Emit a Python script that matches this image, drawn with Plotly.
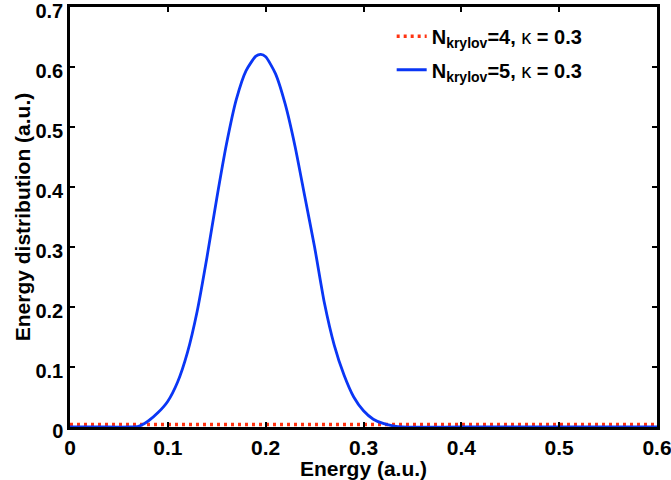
import plotly.graph_objects as go

# Series: N_krylov = 5 (blue, solid)
energy_n5 = [0.0, 0.03, 0.06, 0.07, 0.08, 0.09, 0.10, 0.11, 0.12, 0.13, 0.14,
             0.15, 0.16, 0.17, 0.18, 0.19, 0.195, 0.20, 0.21, 0.22, 0.23, 0.24,
             0.25, 0.26, 0.27, 0.28, 0.29, 0.30, 0.31, 0.32, 0.33, 0.34, 0.40,
             0.50, 0.60]
dist_n5 = [0.0, 0.0, 0.0, 0.001, 0.010, 0.024, 0.043, 0.075, 0.124, 0.193, 0.283,
           0.381, 0.472, 0.546, 0.594, 0.618, 0.621, 0.617, 0.589, 0.538, 0.468, 0.384,
           0.300, 0.207, 0.137, 0.087, 0.050, 0.027, 0.013, 0.006, 0.002, 0.0, 0.0,
           0.0, 0.0]

# Series: N_krylov = 4 (red, dotted)
energy_n4 = [0.0, 0.1, 0.2, 0.3, 0.4, 0.5, 0.6]
dist_n4 = [0.004, 0.004, 0.004, 0.004, 0.004, 0.004, 0.004]

x_ticks = [0, 0.1, 0.2, 0.3, 0.4, 0.5, 0.6]
x_tick_labels = ["0", "0.1", "0.2", "0.3", "0.4", "0.5", "0.6"]
y_ticks = [0, 0.1, 0.2, 0.3, 0.4, 0.5, 0.6, 0.7]
y_tick_labels = ["0", "0.1", "0.2", "0.3", "0.4", "0.5", "0.6", "0.7"]

FONT = "Liberation Sans, Arial, sans-serif"

fig = go.Figure()
fig.add_trace(go.Scatter(
    x=energy_n4, y=dist_n4, mode="lines", legend="legend",
    name="<b>N<sub>krylov</sub>=4, </b>κ<b> = 0.3</b>",
    line=dict(color="#FF3311", width=3.5, dash="3px,4px"),
))
fig.add_trace(go.Scatter(
    x=energy_n5, y=dist_n5, mode="lines", legend="legend2",
    name="<b>N<sub>krylov</sub>=5, </b>κ<b> = 0.3</b>",
    line=dict(color="#0A36F5", width=2.8, shape="spline", smoothing=0.6),
))

axis_common = dict(
    showgrid=False, zeroline=False, showline=True, linecolor="black",
    linewidth=2.5, mirror="ticks", ticks="inside", ticklen=5, tickwidth=2,
    tickcolor="black", ticklabeloverflow="allow", automargin=False,
)

fig.update_xaxes(
    range=[0, 0.6], tickvals=x_ticks, ticktext=x_tick_labels,
    tickfont=dict(family=FONT, size=21, color="black", weight="bold"),
    title=dict(text="<b>Energy (a.u.)</b>", standoff=0,
               font=dict(family=FONT, size=21, color="black")),
    **axis_common,
)
fig.update_yaxes(
    range=[0, 0.7], tickvals=y_ticks, ticktext=y_tick_labels,
    ticklabelshift=4,
    tickfont=dict(family=FONT, size=20, color="black", weight="bold"),
    title=dict(text="<b>Energy distribution (a.u.)</b>", standoff=0,
               font=dict(family=FONT, size=21, color="black")),
    **axis_common,
)

legend_common = dict(
    xanchor="left", yanchor="top",
    bgcolor="rgba(0,0,0,0)", borderwidth=0,
    font=dict(family=FONT, size=20, color="black"),
    itemwidth=30,
)

fig.update_layout(
    width=671, height=480,
    margin=dict(l=70, r=14, t=7, b=53),
    paper_bgcolor="white", plot_bgcolor="white",
    font=dict(family=FONT, color="black"),
    showlegend=True,
    legend=dict(x=0.548, y=0.977, **legend_common),
    legend2=dict(x=0.548, y=0.897, **legend_common),
)

fig.write_html("out.html")
